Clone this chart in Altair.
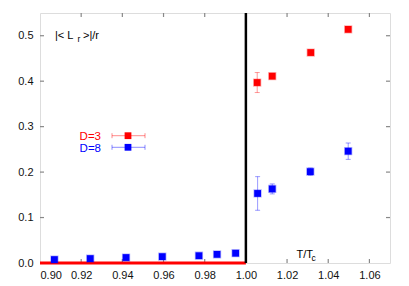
import altair as alt
import pandas as pd

# ---- data ----
T_red = [1.0055, 1.0128, 1.0315, 1.0497]
val_red = [0.397, 0.411, 0.463, 0.514]
err_red = [0.022, 0.004, 0.003, 0.005]

T_blue = [0.907, 0.9244, 0.9418, 0.9594, 0.9772, 0.986, 0.995, 1.0057, 1.0128, 1.0313, 1.0497]
val_blue = [0.0075, 0.0097, 0.012, 0.014, 0.016, 0.019, 0.0215, 0.153, 0.163, 0.201, 0.246]
err_blue = [0, 0, 0, 0, 0, 0, 0, 0.037, 0.011, 0.008, 0.018]

red_line_T = [0.90, 1.00]
red_line_val = [0.0, 0.0]
Tc = [1.0]

x_ticks = [0.92, 0.94, 0.96, 0.98, 1.00, 1.02, 1.04, 1.06]
y_ticks = [0.1, 0.2, 0.3, 0.4, 0.5]

legend_labels = ["D=3", "D=8"]
RED = "#ff0000"
BLUE = "#0000ff"
W, H = 350, 250
FONT = "Liberation Sans"

xs = alt.Scale(domain=[0.90, 1.07], nice=False, zero=False)
ys = alt.Scale(domain=[0, 0.55], nice=False)

def series(T, v, e, color):
    df = pd.DataFrame({"T": T, "v": v, "lo": [a - b for a, b in zip(v, e)], "hi": [a + b for a, b in zip(v, e)]})
    dfe = df[[b > 0 for b in e]]
    base_e = alt.Chart(dfe)
    bars = base_e.mark_rule(color=color, opacity=0.4, strokeWidth=1).encode(
        x=alt.X("T:Q", scale=xs), y=alt.Y("lo:Q", scale=ys), y2="hi:Q")
    cap_lo = base_e.mark_tick(color=color, opacity=0.4, orient="horizontal", size=5, thickness=1).encode(
        x=alt.X("T:Q", scale=xs), y=alt.Y("lo:Q", scale=ys))
    cap_hi = base_e.mark_tick(color=color, opacity=0.4, orient="horizontal", size=5, thickness=1).encode(
        x=alt.X("T:Q", scale=xs), y=alt.Y("hi:Q", scale=ys))
    pts = alt.Chart(df).mark_square(color=color, opacity=1, size=46, stroke=color, strokeOpacity=0.3, strokeWidth=1.5).encode(
        x=alt.X("T:Q", scale=xs), y=alt.Y("v:Q", scale=ys))
    return bars + cap_lo + cap_hi + pts

# axes (labels only)
axis_base = alt.Chart(pd.DataFrame({"T": [0.9], "v": [0.0]})).mark_point(opacity=0).encode(
    x=alt.X("T:Q", scale=xs, title=None,
            axis=alt.Axis(values=[0.90] + x_ticks, format=".2f", ticks=False, domain=False, grid=False,
                          labelPadding=6, labelFontSize=11, labelFont=FONT, labelColor="#111")),
    y=alt.Y("v:Q", scale=ys, title=None,
            axis=alt.Axis(values=[0.0] + y_ticks, format=".1f", ticks=False, domain=False, grid=False,
                          labelPadding=7, labelFontSize=11, labelFont=FONT, labelColor="#111")),
)

# inward ticks
xt = pd.DataFrame({"T": x_ticks})
yt = pd.DataFrame({"v": y_ticks})
tick_style = dict(color="#888888", strokeWidth=1.2)
ticks = (
    alt.Chart(xt).mark_rule(**tick_style).encode(x=alt.X("T:Q", scale=xs), y=alt.value(H), y2=alt.value(H - 4))
    + alt.Chart(xt).mark_rule(**tick_style).encode(x=alt.X("T:Q", scale=xs), y=alt.value(0), y2=alt.value(4))
    + alt.Chart(yt).mark_rule(**tick_style).encode(y=alt.Y("v:Q", scale=ys), x=alt.value(0), x2=alt.value(4))
    + alt.Chart(yt).mark_rule(**tick_style).encode(y=alt.Y("v:Q", scale=ys), x=alt.value(W), x2=alt.value(W - 4))
)

red_line = alt.Chart(pd.DataFrame({"T": red_line_T, "v": red_line_val})).mark_line(color=RED, strokeWidth=3).encode(
    x=alt.X("T:Q", scale=xs), y=alt.Y("v:Q", scale=ys))
vline = alt.Chart(pd.DataFrame({"T": Tc})).mark_rule(color="black", strokeWidth=2.5).encode(
    x=alt.X("T:Q", scale=xs))

def txt(s, x, y, size=11, color="black", align="left"):
    return alt.Chart(pd.DataFrame({"t": [s]})).mark_text(
        font=FONT, fontSize=size, color=color, align=align, baseline="alphabetic").encode(
        x=alt.value(x), y=alt.value(y), text="t:N")

labels = (
    txt("|< L", 15, 26) + txt("r", 37.5, 29, size=8.5) + txt(">|/r", 43, 26)
    + txt("T/T", 256.5, 245) + txt("c", 271.5, 248, size=8.5)
)

def legend_entry(label, color, y_mid, y_base):
    t = txt(label, 61, y_base, size=11.5, color=color, align="right")
    one = pd.DataFrame({"a": [0]})
    bar = alt.Chart(one).mark_rule(color=color, opacity=0.45, strokeWidth=1).encode(
        x=alt.value(72), x2=alt.value(105), y=alt.value(y_mid))
    c1 = alt.Chart(one).mark_rule(color=color, opacity=0.45, strokeWidth=1).encode(
        x=alt.value(72), y=alt.value(y_mid - 2.5), y2=alt.value(y_mid + 2.5))
    c2 = alt.Chart(one).mark_rule(color=color, opacity=0.45, strokeWidth=1).encode(
        x=alt.value(105), y=alt.value(y_mid - 2.5), y2=alt.value(y_mid + 2.5))
    sq = alt.Chart(one).mark_square(color=color, opacity=1, size=46).encode(
        x=alt.value(88), y=alt.value(y_mid))
    return t + bar + c1 + c2 + sq

legend = legend_entry(legend_labels[0], RED, 122.7, 126.5) + legend_entry(legend_labels[1], BLUE, 134.3, 138.5)

chart = alt.layer(
    axis_base, ticks, red_line, vline,
    series(T_red, val_red, err_red, RED),
    series(T_blue, val_blue, err_blue, BLUE),
    labels, legend,
).properties(
    width=W, height=H,
    autosize=alt.AutoSizeParams(type="none"),
    padding={"left": 32, "top": 5, "right": 10, "bottom": 20},
).configure_view(stroke="#333333", strokeWidth=1.2).configure(background="white")

chart.save("out.html", embed_options={"renderer": "svg", "actions": False})
